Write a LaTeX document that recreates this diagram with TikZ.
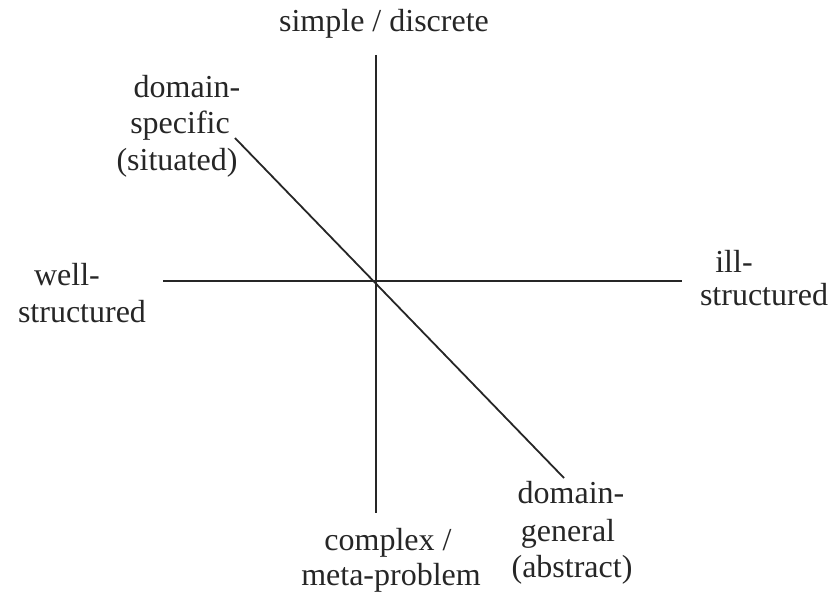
\documentclass[tikz,border=0pt]{standalone}
\usepackage{fontspec}
\setmainfont{Liberation Serif}
\begin{document}
\begin{tikzpicture}[x=1pt,y=-1pt,
  axis/.style={line width=1.8pt,draw=black!85},
  lbl/.style={anchor=base,inner sep=0pt,font=\fontsize{32}{38}\selectfont,text=black!85}]
\useasboundingbox (0,0) rectangle (837,594);
% axis end points
\coordinate (vtop) at (376,55);
\coordinate (vbot) at (376,513);
\coordinate (hleft) at (163,281);
\coordinate (hright) at (682,281);
\coordinate (dtop) at (235,138);
\coordinate (dbot) at (564,478);
\draw[axis] (vtop) -- (vbot);
\draw[axis] (hleft) -- (hright);
\draw[axis] (dtop) -- (dbot);
% labels
\node[lbl] (simple) at (384,32) {simple / discrete};
\node[lbl] (ds1) at (187,97) {domain-};
\node[lbl] (ds2) at (180,133) {specific};
\node[lbl] (ds3) at (177,170) {(situated)};
\node[lbl] (ws1) at (67,285) {well-};
\node[lbl] (ws2) at (82,322) {structured};
\node[lbl] (is1) at (734,272) {ill-};
\node[lbl] (is2) at (764,305) {structured};
\node[lbl] (cx1) at (388,550) {complex /};
\node[lbl] (cx2) at (391,585) {meta-problem};
\node[lbl] (dg1) at (571,503) {domain-};
\node[lbl] (dg2) at (568,541) {general};
\node[lbl] (dg3) at (572,577) {(abstract)};
\end{tikzpicture}
\end{document}
